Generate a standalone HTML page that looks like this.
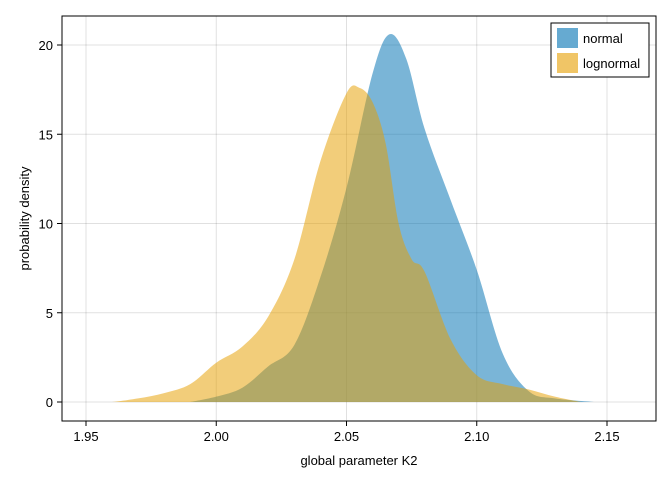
<!DOCTYPE html>
<html><head><meta charset="utf-8"><style>
body{margin:0;background:#fff}
svg text{font-family:"Liberation Sans",sans-serif;fill:#000}
</style></head><body>
<svg id="c" width="672" height="480">
<rect x="0" y="0" width="672" height="480" fill="#fff"/>
<g id="grid"></g><g id="series"></g><g id="axes"></g>
<g>
<rect x="551" y="23" width="98" height="54" fill="#fff" stroke="#000" stroke-width="1"/>
<rect x="557" y="28" width="21" height="20" fill="#0072B2" fill-opacity="0.6"/>
<text x="583" y="43" font-size="13">normal</text>
<rect x="557" y="53" width="21" height="20" fill="#E69F00" fill-opacity="0.6"/>
<text x="583" y="68" font-size="13">lognormal</text>
</g>
</svg>
<script>
const xTicks=[1.95,2.00,2.05,2.10,2.15];
const xTickLabels=["1.95","2.00","2.05","2.10","2.15"];
const yTicks=[0,5,10,15,20];
const normalX=[1.99,2.00,2.01,2.02,2.03,2.04,2.05,2.06,2.0665,2.073,2.08,2.09,2.10,2.11,2.12,2.13,2.145];
const normalY=[0,0.3,0.8,2.0,3.2,7.0,12.0,18.4,20.6,19.2,15.3,11.3,7.4,2.7,0.6,0.2,0];
const lognormalX=[1.96,1.97,1.98,1.99,2.00,2.01,2.02,2.03,2.04,2.05,2.055,2.06,2.065,2.07,2.075,2.08,2.09,2.10,2.11,2.12,2.13,2.14];
const lognormalY=[0,0.2,0.5,1.0,2.2,3.1,4.8,8.0,13.5,17.3,17.6,16.8,14.5,10.0,8.0,7.3,3.5,1.5,1.0,0.7,0.3,0];
const L=62,R=656,T=16,B=421;
const xs=v=>86+(v-1.95)/0.2*(607-86);
const ys=v=>402-v*17.85;
const NS="http://www.w3.org/2000/svg";
function mk(t,a,p){const e=document.createElementNS(NS,t);for(const k in a)e.setAttribute(k,a[k]);p.appendChild(e);return e;}
const grid=document.getElementById('grid'),axes=document.getElementById('axes'),ser=document.getElementById('series');
xTicks.forEach((v,i)=>{
 const g=mk('line',{x1:xs(v),x2:xs(v),y1:T,y2:B,stroke:'#000','stroke-opacity':0.12},grid);
 
 
 const tk=mk('line',{x1:xs(v),x2:xs(v),y1:B,y2:B+5,stroke:'#000'},axes);
 
 
 const t=mk('text',{x:xs(v),y:B+20,'font-size':13,'text-anchor':'middle'},axes);t.textContent=xTickLabels[i];
 
 
});
yTicks.forEach(v=>{
 const g=mk('line',{x1:L,x2:R,y1:ys(v),y2:ys(v),stroke:'#000','stroke-opacity':0.12},grid);
 
 
 const tk=mk('line',{x1:L-5,x2:L,y1:ys(v),y2:ys(v),stroke:'#000'},axes);
 
 
 const t=mk('text',{x:L-9,y:ys(v)+5,'font-size':13,'text-anchor':'end'},axes);t.textContent=v;
 
 
});
function path(X,Y){
 const p=X.map((x,i)=>[xs(x),ys(Y[i])]);
 let d=`M${p[0][0]},${ys(0)} L${p[0][0]},${p[0][1]}`;
 for(let i=0;i<p.length-1;i++){
  const p0=p[Math.max(0,i-1)],p1=p[i],p2=p[i+1],p3=p[Math.min(p.length-1,i+2)];
  const c1=[p1[0]+(p2[0]-p0[0])/6,Math.min(ys(0),p1[1]+(p2[1]-p0[1])/6)];
  const c2=[p2[0]-(p3[0]-p1[0])/6,Math.min(ys(0),p2[1]-(p3[1]-p1[1])/6)];
  d+=` C${c1[0]},${c1[1]} ${c2[0]},${c2[1]} ${p2[0]},${p2[1]}`;
 }
 return d+' Z';
}
const a=mk('path',{d:path(normalX,normalY),fill:'#0072B2','fill-opacity':0.52},ser);


const b=mk('path',{d:path(lognormalX,lognormalY),fill:'#E69F00','fill-opacity':0.52},ser);


const fr=mk('rect',{x:L,y:T,width:R-L,height:B-T,fill:'none',stroke:'#000'},axes);


const xt=mk('text',{x:(L+R)/2,y:465,'font-size':13,'text-anchor':'middle'},axes);xt.textContent='global parameter K2';


const yt=mk('text',{x:0,y:0,'font-size':13,'text-anchor':'middle',transform:`translate(29,${(T+B)/2}) rotate(-90)`},axes);yt.textContent='probability density';


</script>
</body></html>
